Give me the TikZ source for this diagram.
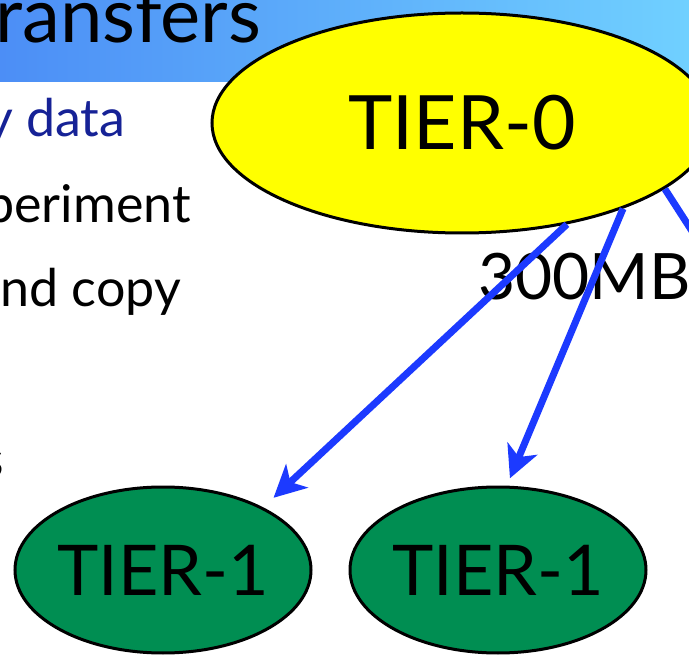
\documentclass[tikz,border=0pt]{standalone}
\usepackage{fontspec}
\setmainfont{Lato}
\usetikzlibrary{shapes.geometric,arrows.meta,positioning}

\definecolor{bannerleft}{RGB}{76,142,246}
\definecolor{bannerright}{RGB}{112,208,255}
\definecolor{tieryellow}{RGB}{255,255,0}
\definecolor{tiergreen}{RGB}{0,142,82}
\definecolor{linkblue}{RGB}{28,58,255}
\definecolor{itemblue}{RGB}{22,34,150}

\tikzset{
  tier/.style={ellipse, draw=black, line width=3pt, inner sep=0pt, inner xsep=-30pt},
  tierzero/.style={tier, fill=tieryellow, minimum width=500pt, minimum height=220pt,
    font=\fontsize{75}{78}\selectfont},
  tierone/.style={tier, fill=tiergreen, minimum width=296pt, minimum height=166pt,
    font=\fontsize{70}{72}\selectfont},
  item/.style={anchor=base west, inner sep=0pt, font=\fontsize{52}{56}\selectfont},
  link/.style={draw=linkblue, line width=7pt}
}

\begin{document}
\begin{tikzpicture}[x=1pt,y=-1pt,->,>={Stealth[length=32pt,width=32pt,inset=9pt]}]
  \useasboundingbox (0,0) rectangle (689,655);
  \clip (0,0) rectangle (689,655);
  \fill[white] (0,0) rectangle (689,655);
  \shade[left color=bannerleft, right color=bannerright] (0,0) rectangle (689,82);

  % slide text, cut at the left edge
  \node (head) [item, font=\fontsize{76}{78}\selectfont] at (-5,43) {ransfers};
  \node (l1) [item, text=itemblue] at (-14,137) {y data};
  \node (l2) [item] at (-15,223) {periment};
  \node (l3) [item] at (0,307) {nd copy};
  \node (l4) [item] at (-19,477) {s};

  % tiers
  \node (0) [tierzero] at (462,123) {TIER-0};
  \node (1a) [tierone] at (163,570) {TIER-1};
  \node (1b) [tierone, right=36pt of 1a] {TIER-1};
  \node (rate) [item, font=\fontsize{64}{66}\selectfont] at (478,300) {300MB};
  \coordinate (out) at (730,290);

  \path
    (0.-44) edge[link, shorten >=14pt] (1a.32)
    (0.-28) edge[link, shorten >=8pt] (1b.84)
    (0.-18) edge[link, -] (out);
\end{tikzpicture}
\end{document}
